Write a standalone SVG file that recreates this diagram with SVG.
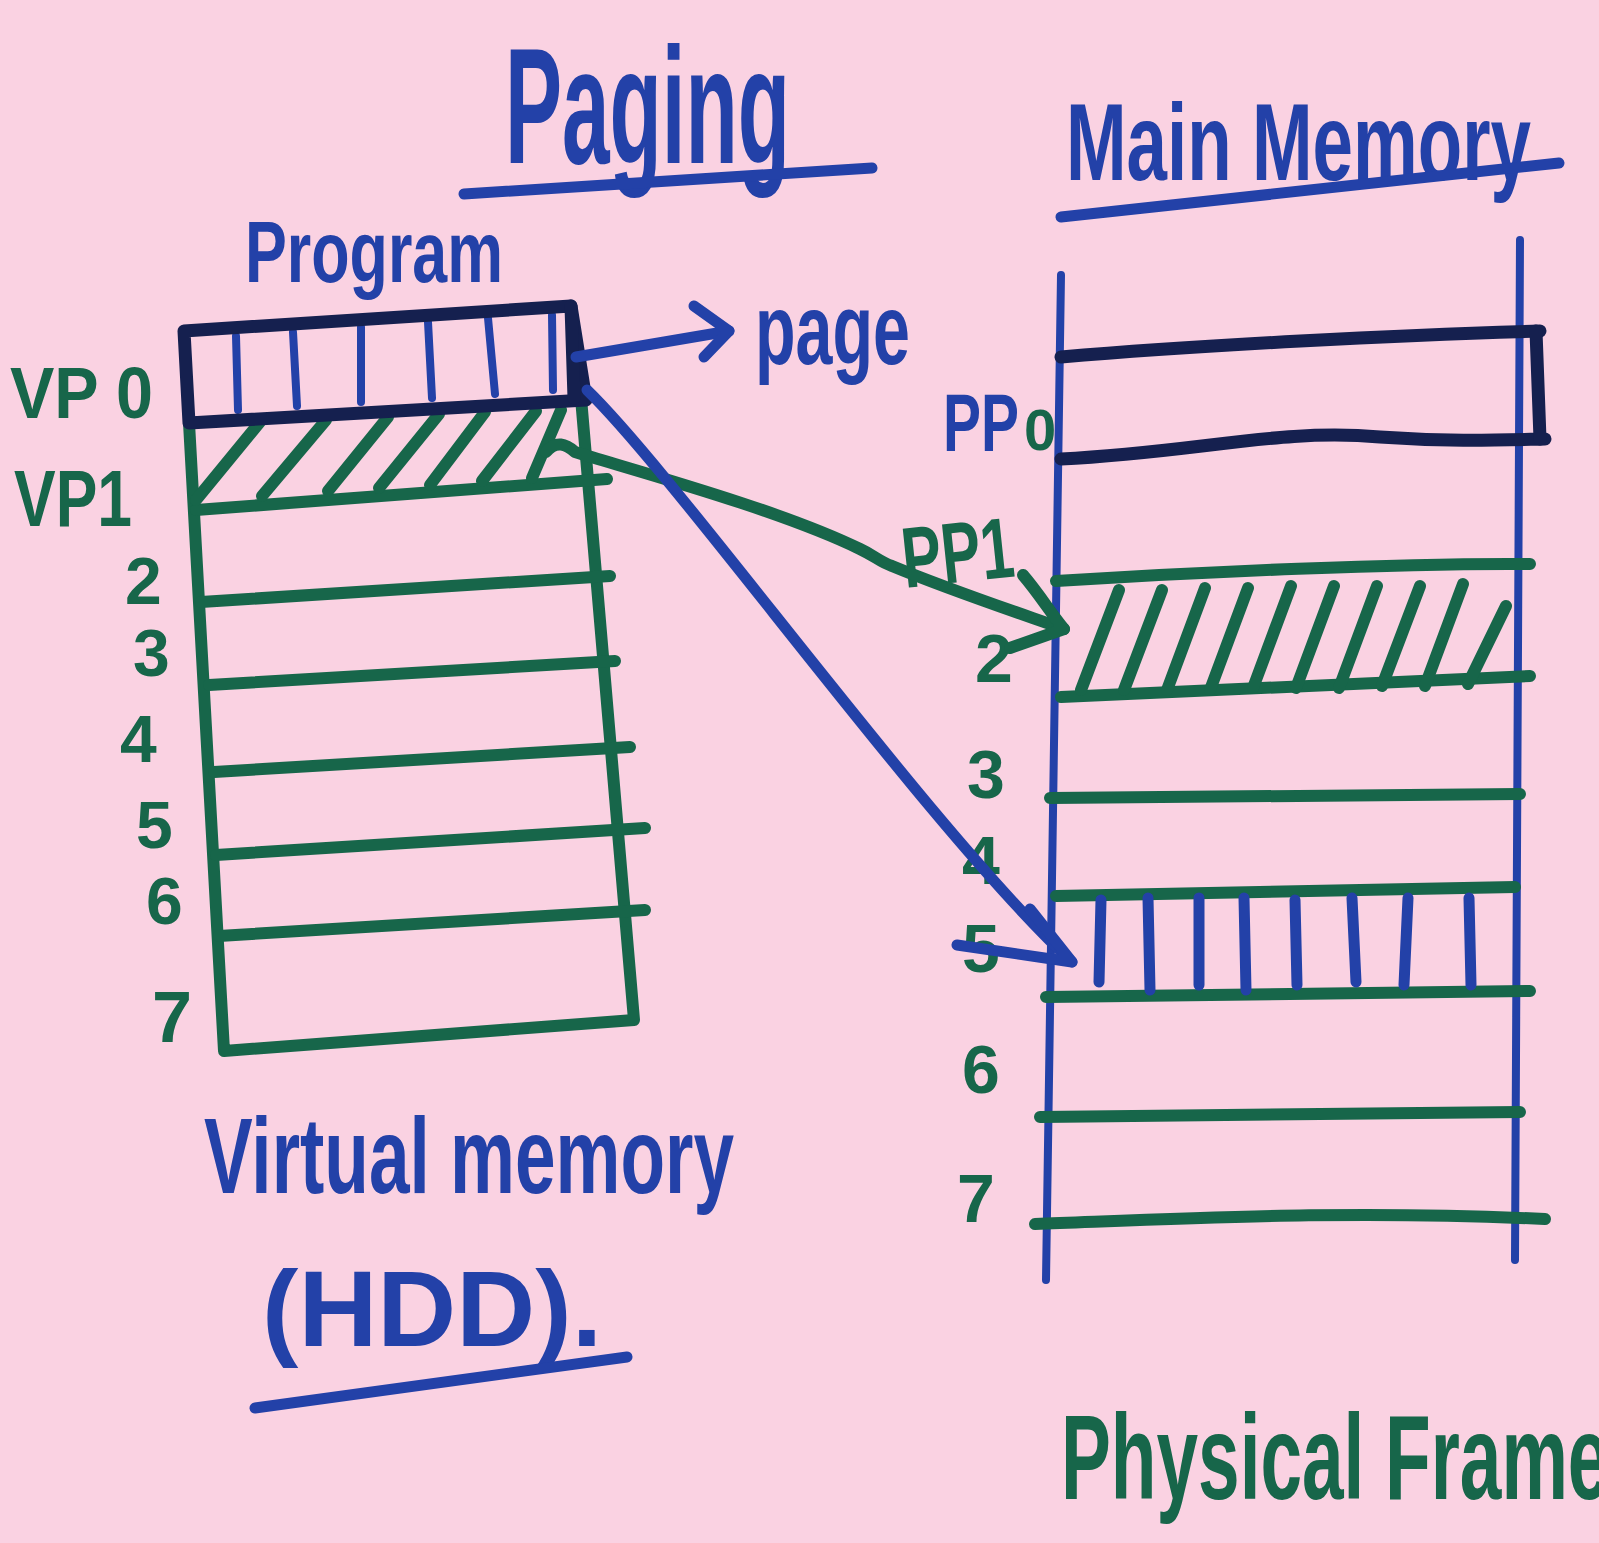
<svg xmlns="http://www.w3.org/2000/svg" width="1599" height="1543" viewBox="0 0 1599 1543">
<defs>
<style>
.bg{fill:#fad2e2}
.b{fill:none;stroke:#2341a8;stroke-width:11;stroke-linecap:round;stroke-linejoin:round}
.bt{fill:none;stroke:#2341a8;stroke-width:8;stroke-linecap:round}
.g{fill:none;stroke:#17664a;stroke-width:12;stroke-linecap:round;stroke-linejoin:round}
.d{fill:none;stroke:#15204f;stroke-width:13;stroke-linecap:round;stroke-linejoin:round}
.tb{fill:#2341a8;font-family:"Liberation Sans",Arial,sans-serif;font-weight:700}
.tg{fill:#17664a;font-family:"Liberation Sans",Arial,sans-serif;font-weight:700}
</style>
</defs>
<rect class="bg" x="0" y="0" width="1599" height="1543"/>

<g id="title">
<text class="tb" x="505" y="163" font-size="165" textLength="285" lengthAdjust="spacingAndGlyphs">Paging</text>
<path class="b" d="M464,194 L872,168"/>
</g>

<g id="main-memory-title">
<text class="tb" x="1066" y="180" font-size="110" textLength="465" lengthAdjust="spacingAndGlyphs">Main Memory</text>
<path class="b" d="M1061,217 L1559,163"/>
</g>

<g id="program-node">
<text class="tb" x="245" y="282" font-size="88" textLength="258" lengthAdjust="spacingAndGlyphs">Program</text>
<!-- green body -->
<path class="g" d="M189,423 L224,1051 L634,1020 L581,398"/>
<path class="g" d="M196,510 L607,479"/>
<path class="g" d="M201,602 L610,576"/>
<path class="g" d="M209,685 L615,661"/>
<path class="g" d="M214,772 L630,747"/>
<path class="g" d="M216,855 L645,828"/>
<path class="g" d="M219,936 L645,910"/>
<!-- VP1 hatch -->
<path class="g" d="M196,500 L260,422 M262,496 L326,420 M328,491 L388,417 M379,488 L439,414 M430,485 L485,412 M482,481 L536,411 M532,478 L561,410"/>
<!-- VP0 page -->
<path class="bt" d="M236,336 L238,410 M293,332 L297,406 M361,327 L361,402 M428,322 L432,398 M488,318 L495,394 M552,315 L553,390"/>
<path class="d" d="M184,331 L571,306 L586,400 L189,423 Z"/>
<path class="d" d="M571,306 L574,398"/>
<text class="tg" x="10" y="418" font-size="72" textLength="143" lengthAdjust="spacingAndGlyphs">VP 0</text>
<text class="tg" x="14" y="526" font-size="80" textLength="118" lengthAdjust="spacingAndGlyphs">VP1</text>
<text class="tg" x="125" y="604" font-size="66">2</text>
<text class="tg" x="133" y="676" font-size="66">3</text>
<text class="tg" x="120" y="762" font-size="66">4</text>
<text class="tg" x="136" y="848" font-size="66">5</text>
<text class="tg" x="146" y="924" font-size="66">6</text>
<text class="tg" x="152" y="1042" font-size="72">7</text>
<text class="tb" x="204" y="1193" font-size="108" textLength="530" lengthAdjust="spacingAndGlyphs">Virtual memory</text>
<text class="tb" x="262" y="1346" font-size="108" textLength="340" lengthAdjust="spacingAndGlyphs">(HDD).</text>
<path class="b" d="M255,1408 L627,1357"/>
</g>

<g id="page-label">
<text class="tb" x="755" y="364" font-size="100" textLength="155" lengthAdjust="spacingAndGlyphs">page</text>
</g>

<g id="main-memory-node">
<path class="bt" d="M1061,275 L1046,1280"/>
<path class="bt" d="M1520,240 L1515,1260"/>
<!-- PP0 -->
<path class="d" d="M1061,357 C1200,345 1400,335 1540,331"/>
<path class="d" d="M1061,459 C1200,452 1280,428 1380,437 C1450,442 1500,440 1545,439"/>
<path class="d" d="M1536,331 L1540,439"/>
<!-- green frame lines -->
<path class="g" d="M1056,581 C1200,572 1400,563 1530,564"/>
<path class="g" d="M1061,697 L1530,676"/>
<path class="g" d="M1050,798 L1520,794"/>
<path class="g" d="M1056,896 L1515,887"/>
<path class="g" d="M1046,997 L1530,991"/>
<path class="g" d="M1040,1117 L1520,1112"/>
<path class="g" d="M1035,1224 C1200,1218 1350,1210 1545,1219"/>
<!-- frame 2 hatch -->
<path class="g" d="M1081,690 L1119,590 M1124,690 L1162,590 M1167,690 L1205,588 M1210,690 L1248,588 M1253,688 L1291,586 M1296,688 L1334,586 M1339,688 L1377,586 M1382,686 L1420,586 M1425,686 L1463,584 M1468,684 L1506,606"/>
<!-- frame 5 blue lines -->
<path class="b" d="M1101,900 L1099,982 M1148,898 L1150,990 M1199,898 L1199,985 M1244,898 L1246,990 M1295,900 L1297,985 M1352,898 L1356,982 M1408,898 L1404,985 M1469,898 L1471,985"/>
<text class="tb" x="943" y="451" font-size="82" textLength="76" lengthAdjust="spacingAndGlyphs">PP</text>
<text class="tg" x="1024" y="450" font-size="58">0</text>
<text class="tg" x="905" y="588" font-size="86" textLength="112" lengthAdjust="spacingAndGlyphs" transform="rotate(-6 905 588)">PP1</text>
<text class="tg" x="975" y="682" font-size="68">2</text>
<text class="tg" x="967" y="798" font-size="68">3</text>
<text class="tg" x="962" y="884" font-size="68">4</text>
<text class="tg" x="962" y="972" font-size="68">5</text>
<text class="tg" x="962" y="1093" font-size="68">6</text>
<text class="tg" x="957" y="1222" font-size="68">7</text>
<text class="tg" x="1061" y="1499" font-size="120" textLength="590" lengthAdjust="spacingAndGlyphs">Physical Frames</text>
</g>

<g id="connectors">
<!-- page pointer -->
<path class="b" d="M576,357 L729,331"/>
<path class="b" d="M694,306 L729,331 L704,357"/>
<!-- VP1 -> frame 2 -->
<path class="g" d="M546,452 C556,440 566,444 575,452 C640,472 780,510 860,549 C875,556 880,562 892,566 C950,590 1010,610 1064,629"/>
<path class="g" d="M1023,575 C1040,595 1050,612 1064,629 L1010,648"/>
<!-- VP0 -> frame 5 -->
<path class="b" d="M587,390 C680,480 930,830 1072,962"/>
<path class="b" d="M1030,909 L1072,962 L957,945"/>
</g>
</svg>
